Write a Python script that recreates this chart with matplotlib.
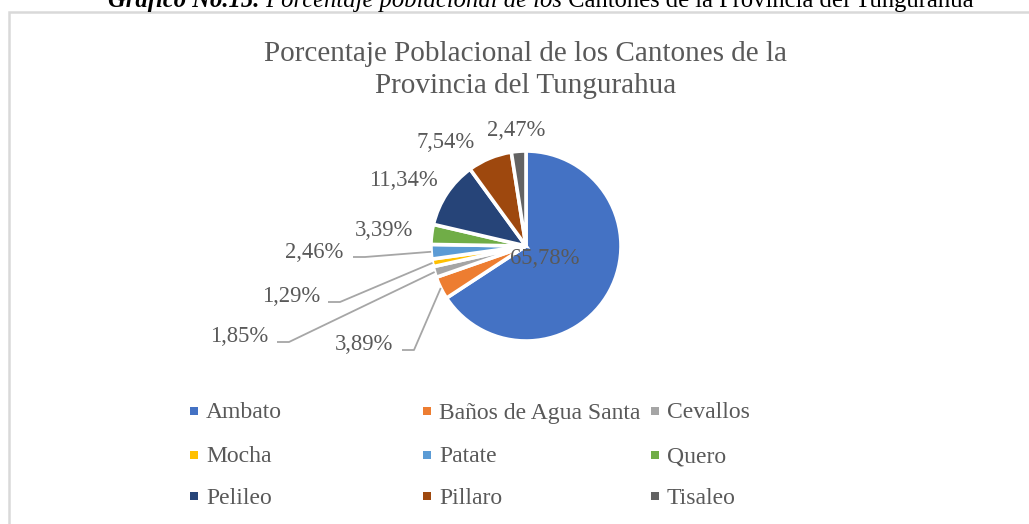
import numpy as np
import matplotlib
matplotlib.use("Agg")
import matplotlib.pyplot as plt
from matplotlib.patches import Rectangle

# ---------------- data ----------------
cantones = ["Ambato", "Baños de Agua Santa", "Cevallos", "Mocha", "Patate",
            "Quero", "Pelileo", "Pillaro", "Tisaleo"]
porcentajes = [65.78, 3.89, 1.85, 1.29, 2.46, 3.39, 11.34, 7.54, 2.47]
colores = ["#4472C4", "#ED7D31", "#A5A5A5", "#FFC000", "#5B9BD5",
           "#70AD47", "#264478", "#9E480E", "#636363"]
titulo = "Porcentaje Poblacional de los Cantones de la\nProvincia del Tungurahua"
caption_parts = ["Gráfico No.15.", " Porcentaje poblacional de los",
                 " Cantones de la Provincia del Tungurahua"]

W, H = 1029, 524
FONT = "Liberation Serif"
GRAY = "#595959"

fig = plt.figure(figsize=(W / 100, H / 100), dpi=100)
ax = fig.add_axes([0, 0, 1, 1])

def Y(py):
    return H - py

cx, cy, r = 526, 246, 95
wedges, _ = ax.pie(porcentajes, colors=colores, startangle=90, counterclock=False,
                   center=(cx, Y(cy)), radius=r, explode=[0.02] * len(porcentajes),
                   wedgeprops=dict(edgecolor="white", linewidth=2.6))
ax.set_xlim(0, W)
ax.set_ylim(0, H)
ax.set_aspect("equal")
ax.axis("off")

# label positions (pixel centres) and optional leader start x
label_pos = [(545, 258), (364, 345), (239, 337), (291, 297), (314, 252),
             (384, 230), (403, 181), (446, 142), (516, 130)]
leader_x = [None, 402, 277, 328, 353, None, None, None, None]

for i, (val, (lx, ly)) in enumerate(zip(porcentajes, label_pos)):
    txt = f"{val:.2f}%".replace(".", ",")
    ax.text(lx, Y(ly), txt, ha="center", va="center", fontsize=16.3,
            family=FONT, color=GRAY, zorder=5)
    if leader_x[i] is not None:
        w = wedges[i]
        mid = np.deg2rad((w.theta1 + w.theta2) / 2)
        ex, ey = w.center
        px = ex + w.r * np.cos(mid)
        py = ey + w.r * np.sin(mid)
        sx = leader_x[i]
        sy = Y(ly + 5)
        ax.plot([sx, sx + 12, px], [sy, sy, py], color="#A6A6A6", lw=1.3,
                solid_capstyle="butt", zorder=4)

# title
ax.text(526, Y(70), titulo, ha="center", va="center", fontsize=21,
        family=FONT, color=GRAY, linespacing=1.3)

# legend (3 columns, row-wise order)
col_x = [194, 427, 655]
row_y = [413, 457, 498]
for i, (name, c) in enumerate(zip(cantones, colores)):
    mx = col_x[i % 3]
    my = row_y[i // 3]
    ax.add_patch(Rectangle((mx - 4, Y(my - 2) - 4), 8, 8, facecolor=c, edgecolor="none"))
    ax.text(mx + 12, Y(my), name, ha="left", va="center", fontsize=17,
            family=FONT, color=GRAY)

# chart border
ax.add_patch(Rectangle((8.5, -20), W + 40, Y(12) + 20, facecolor="none",
                       edgecolor="#D9D9D9", lw=1.8, clip_on=False))

# caption at top (partially cut off)
fig.canvas.draw()
renderer = fig.canvas.get_renderer()
styles = [dict(weight="bold", style="italic"), dict(style="italic"), dict()]
texts = []
x = 0
for part, st in zip(caption_parts, styles):
    t = ax.text(x, Y(7), part, ha="left", va="baseline", fontsize=17.7,
                family=FONT, color="black", **st)
    texts.append(t)
widths = []
for t in texts:
    bb = t.get_window_extent(renderer)
    widths.append(bb.width)
total = sum(widths)
x = 541 - total / 2
for t, wdt in zip(texts, widths):
    t.set_x(x)
    x += wdt

fig.savefig("out.png", dpi=100)
